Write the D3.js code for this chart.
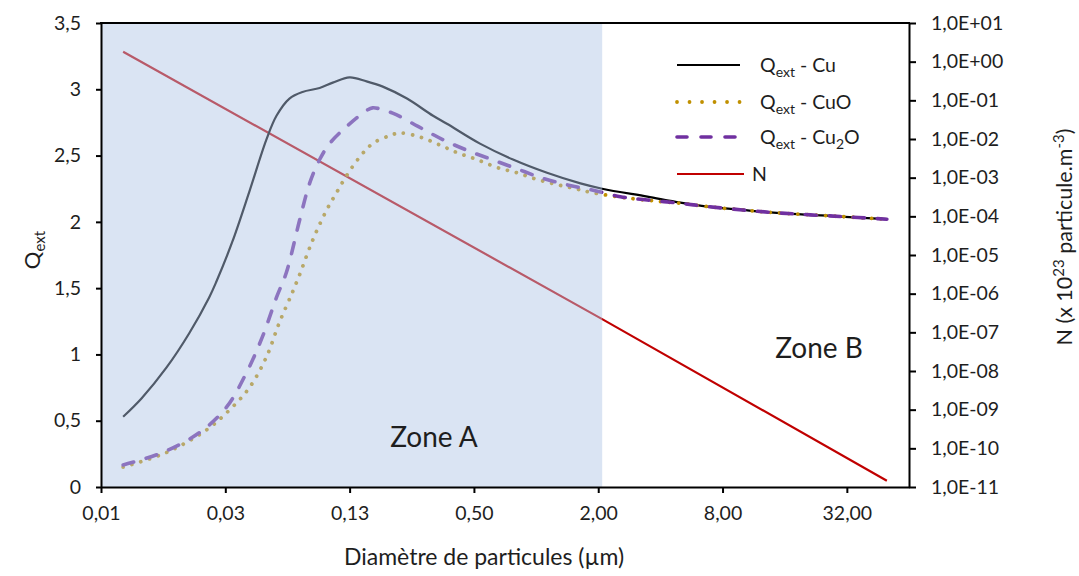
<!DOCTYPE html>
<html><head><meta charset="utf-8">
<script src="https://cdn.jsdelivr.net/npm/d3@7"></script>
<style>
body{margin:0;background:#fff}
svg text{font-family:Lato,"Open Sans",sans-serif;fill:#1e1e1e}
</style>
</head><body>
<svg id="chart" width="1079" height="576"></svg>
<script>
// ---------- data ----------
const cuD  = [0.01,0.0123,0.0162,0.0209,0.0261,0.0283,0.0338,0.0409,0.0494,0.0553,0.0639,0.0739,0.0895,0.1036,0.125,0.151,0.181,0.237,0.317,0.370,0.535,0.773,1.13,1.64,2.09,3.46,5.0,6.77,10.0,14.1,29.9,50];
const cuQ  = [0.53,0.67,0.90,1.16,1.43,1.55,1.85,2.23,2.62,2.80,2.93,2.98,3.01,3.05,3.09,3.06,3.02,2.93,2.80,2.74,2.59,2.47,2.37,2.29,2.25,2.19,2.145,2.115,2.09,2.07,2.04,2.02];

const cuoD = [0.01,0.0162,0.0253,0.0327,0.0409,0.0494,0.0571,0.0661,0.0715,0.0827,0.0968,0.108,0.121,0.140,0.1615,0.195,0.219,0.274,0.342,0.418,0.517,0.647,0.809,1.01,1.27,1.55,1.87,2.76,3.9,5.0,6.77,10.0,14.1,29.9,50];
const cuoQ = [0.15,0.26,0.43,0.58,0.75,0.98,1.24,1.47,1.60,1.86,2.09,2.22,2.35,2.49,2.59,2.65,2.67,2.64,2.58,2.52,2.47,2.41,2.37,2.32,2.28,2.25,2.22,2.18,2.155,2.14,2.115,2.09,2.07,2.04,2.02];

const cu2oD = [0.01,0.0155,0.0234,0.0316,0.0395,0.0472,0.0553,0.0618,0.0715,0.080,0.0895,0.100,0.121,0.151,0.1615,0.202,0.268,0.354,0.463,0.611,0.809,1.07,1.41,1.87,2.56,3.46,5.0,6.77,10.0,14.1,29.9,50];
const cu2oQ = [0.166,0.26,0.41,0.60,0.86,1.13,1.43,1.62,2.01,2.29,2.47,2.59,2.72,2.84,2.86,2.82,2.72,2.62,2.54,2.47,2.40,2.33,2.28,2.24,2.19,2.165,2.14,2.115,2.09,2.07,2.04,2.02];

const nD   = [0.01, 2.09, 50];
const nVal = [1.8, 2.2e-7, 1.45e-11];

const zoneAEnd = 2.09;

const xTicks = [0.0078125,0.03125,0.125,0.5,2,8,32];
const xTickLabels = ["0,01","0,03","0,13","0,50","2,00","8,00","32,00"];
const yTicks = [0,0.5,1,1.5,2,2.5,3,3.5];
const yTickLabels = ["0","0,5","1","1,5","2","2,5","3","3,5"];
const nTicks = [1e-11,1e-10,1e-9,1e-8,1e-7,1e-6,1e-5,1e-4,1e-3,1e-2,1e-1,1,10];
const nTickLabels = ["1,0E-11","1,0E-10","1,0E-09","1,0E-08","1,0E-07","1,0E-06","1,0E-05","1,0E-04","1,0E-03","1,0E-02","1,0E-01","1,0E+00","1,0E+01"];

const seriesNames = ["Cu","CuO","Cu2O","N"];

// ---------- layout ----------
const L = 101, R = 909, T = 23, B = 487;
const svg = d3.select("#chart");
svg.append("rect").attr("width",1079).attr("height",576).attr("fill","#fff");

const x  = d3.scaleLog().base(4).domain([1/128, 64]).range([L, R]);
const yL = d3.scaleLinear().domain([0, 3.5]).range([B, T]);
const yR = d3.scaleLog().domain([1e-11, 10]).range([B, T]);

const lineL = d3.line().x(d => x(d[0])).y(d => yL(d[1])).curve(d3.curveCatmullRom.alpha(0.5));
const lineR = d3.line().x(d => x(d[0])).y(d => yR(d[1]));

const styles = {
  Cu:   {stroke:"#000000", width:2.2, dash:null, cap:"butt"},
  CuO:  {stroke:"#C09000", width:3.8, dash:"0.01 9.2", cap:"round"},
  Cu2O: {stroke:"#7030A0", width:3.6, dash:"11 13", cap:"round"},
  N:    {stroke:"#C00000", width:2.2, dash:null, cap:"butt"}
};

const plot = svg.append("g");
function drawQ(D, Q, s){
  plot.append("path").datum(D.map((d,i)=>[d,Q[i]]))
    .attr("d", lineL).attr("fill","none")
    .attr("stroke", s.stroke).attr("stroke-width", s.width)
    .attr("stroke-dasharray", s.dash).attr("stroke-linecap", s.cap);
}
plot.append("path").datum(nD.map((d,i)=>[d,nVal[i]]))
  .attr("d", lineR).attr("fill","none")
  .attr("stroke", styles.N.stroke).attr("stroke-width", styles.N.width);
drawQ(cuD, cuQ, styles.Cu);
drawQ(cuoD, cuoQ, styles.CuO);
drawQ(cu2oD, cu2oQ, styles.Cu2O);

// translucent Zone A shading over the curves
svg.append("rect")
  .attr("x", x(1/128)).attr("y", T)
  .attr("width", x(zoneAEnd) - x(1/128)).attr("height", B - T)
  .attr("fill", "rgb(175,196,228)").attr("fill-opacity", 0.46);

// zone labels
svg.append("text").attr("x", 434).attr("y", 447).attr("text-anchor","middle")
  .style("font-size","28px").text("Zone A");
svg.append("text").attr("x", 819).attr("y", 358).attr("text-anchor","middle")
  .style("font-size","28px").text("Zone B");

// ---------- axes ----------
function styleAxis(g){
  g.selectAll("path.domain").attr("stroke","#000").attr("stroke-width",2);
  g.selectAll(".tick line").attr("stroke","#000").attr("stroke-width",2);
  g.selectAll(".tick text").style("font-size","19.5px").attr("fill","#1e1e1e")
    .style("font-family","Lato, 'Open Sans', sans-serif");
}
const ax = svg.append("g").attr("transform",`translate(0,${B})`)
  .call(d3.axisBottom(x).tickValues(xTicks).tickFormat((d,i)=>xTickLabels[i]).tickSize(6).tickSizeOuter(0).tickPadding(13));
styleAxis(ax);
const ayl = svg.append("g").attr("transform",`translate(${L},0)`)
  .call(d3.axisLeft(yL).tickValues(yTicks).tickFormat((d,i)=>yTickLabels[i]).tickSize(5).tickSizeOuter(0).tickPadding(15));
styleAxis(ayl);
const ayr = svg.append("g").attr("transform",`translate(${R},0)`)
  .call(d3.axisRight(yR).tickValues(nTicks).tickFormat((d,i)=>nTickLabels[i]).tickSize(7).tickSizeOuter(0).tickPadding(15));
styleAxis(ayr);
svg.append("line").attr("x1",L-1).attr("x2",R+1).attr("y1",T).attr("y2",T)
  .attr("stroke","#000").attr("stroke-width",2);

// axis titles
svg.append("text").attr("x", 484).attr("y", 565).attr("text-anchor","middle")
  .style("font-size","23px").text("Diamètre de particules (µm)");

const qt = svg.append("text").attr("transform","translate(40,250) rotate(-90)")
  .attr("text-anchor","middle").style("font-size","22px");
qt.append("tspan").text("Q");
qt.append("tspan").attr("dy",5).style("font-size","15px").text("ext");

const nt = svg.append("text").attr("transform","translate(1072,237) rotate(-90)")
  .attr("text-anchor","middle").style("font-size","21.5px");
nt.append("tspan").text("N  (x 10");
nt.append("tspan").attr("dy",-8).style("font-size","15px").text("23");
nt.append("tspan").attr("dy",8).text(" particule.m");
nt.append("tspan").attr("dy",-8).style("font-size","15px").text("-3");
nt.append("tspan").attr("dy",8).text(")");

// ---------- legend ----------
const legRows = [65, 102, 137, 174];
const leg = svg.append("g");
seriesNames.forEach((name, i) => {
  const s = styles[name];
  const y = legRows[i];
  leg.append("line").attr("x1",677).attr("x2", name === "N" ? 744 : 740)
    .attr("y1",y).attr("y2",y)
    .attr("stroke",s.stroke).attr("stroke-width",s.width)
    .attr("stroke-dasharray", name==="CuO" ? "0.01 12.5" : (name==="Cu2O" ? "10 14" : null))
    .attr("stroke-linecap", s.cap);
  const t = leg.append("text").attr("y", y + 7).style("font-size","19.5px");
  if (name === "N") {
    t.attr("x", 752).text("N");
  } else {
    t.attr("x", 760);
    t.append("tspan").text("Q");
    t.append("tspan").attr("dy",5).style("font-size","14px").text("ext");
    if (name === "Cu2O") {
      t.append("tspan").attr("dy",-5).text(" - Cu");
      t.append("tspan").attr("dy",5).style("font-size","14px").text("2");
      t.append("tspan").attr("dy",-5).text("O");
    } else {
      t.append("tspan").attr("dy",-5).text(" - " + name);
    }
  }
});
</script>
</body></html>
